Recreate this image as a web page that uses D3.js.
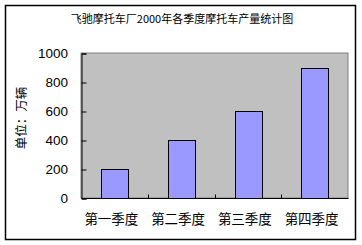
<!DOCTYPE html>
<html lang="zh">
  <head>
    <meta charset="UTF-8" />
    <title>飞驰摩托车厂2000年各季度摩托车产量统计图</title>
    <style>
      * {
        margin: 0;
        padding: 0;
      }
      body {
        background: #fff;
      }
    </style>
  </head>
  <body>
    <script src="https://cdn.jsdelivr.net/npm/d3@7/dist/d3.min.js"></script>
    <script>
      const title = '飞驰摩托车厂2000年各季度摩托车产量统计图'
      const categories = ['第一季度', '第二季度', '第三季度', '第四季度']
      const values = [200, 400, 600, 900]
      const yTicks = [0, 200, 400, 600, 800, 1000]
      const yTitle = '单位：万辆'

      const cjk = '"Noto Sans CJK SC", sans-serif'
      const W = 362
      const H = 245
      const plot = { left: 81, top: 53, right: 348, bottom: 198 }

      const svg = d3
        .select('body')
        .append('svg')
        .attr('width', W)
        .attr('height', H)

      // 外框
      svg
        .append('rect')
        .attr('x', 5.5)
        .attr('y', 5.5)
        .attr('width', 350)
        .attr('height', 234)
        .attr('fill', '#fff')
        .attr('stroke', '#000')
        .attr('stroke-width', 1.5)

      svg
        .append('text')
        .attr('x', 182)
        .attr('y', 23)
        .attr('text-anchor', 'middle')
        .attr('font-family', cjk)
        .attr('font-size', 11)
        .text(title)

      const x = d3
        .scaleBand()
        .domain(categories)
        .range([plot.left, plot.right])
        .paddingInner(0.6)
        .paddingOuter(0.3)

      const xBand = d3
        .scaleBand()
        .domain(categories)
        .range([plot.left, plot.right])

      const y = d3.scaleLinear().domain([0, 1000]).range([plot.bottom, plot.top])

      // 绘图区
      svg
        .append('rect')
        .attr('x', plot.left)
        .attr('y', plot.top)
        .attr('width', plot.right - plot.left)
        .attr('height', plot.bottom - plot.top)
        .attr('fill', '#c0c0c0')
        .attr('stroke', '#808080')
        .attr('stroke-width', 1)

      svg
        .append('g')
        .selectAll('rect')
        .data(values)
        .join('rect')
        .attr('x', (d, i) => Math.round(x(categories[i])) + 0.5)
        .attr('y', (d) => Math.round(y(d)) + 0.5)
        .attr('width', Math.round(x.bandwidth()))
        .attr('height', (d) => Math.round(y(0)) - Math.round(y(d)))
        .attr('fill', '#9999ff')
        .attr('stroke', '#000')
        .attr('stroke-width', 1)

      // y 轴
      const yAxis = svg
        .append('g')
        .attr('transform', `translate(${plot.left + 0.5},0.5)`)
        .call(d3.axisRight(y).tickValues(yTicks).tickSize(5).tickFormat(''))
      yAxis.select('.domain').attr('stroke', '#000')

      svg
        .append('g')
        .selectAll('text')
        .data(yTicks)
        .join('text')
        .attr('x', 68)
        .attr('y', (d) => y(d) + 5)
        .attr('text-anchor', 'end')
        .attr('font-family', '"Liberation Sans", Arial, sans-serif')
        .attr('font-size', 13.5)
        .text((d) => d)

      // x 轴
      const xAxis = svg
        .append('g')
        .attr('transform', `translate(0.5,${plot.bottom + 0.5})`)
        .call(
          d3
            .axisTop(xBand)
            .tickValues(categories.slice(1))
            .tickSize(4)
            .tickFormat('')
            .offset(0)
        )
      xAxis.selectAll('.tick').attr('transform', (d) => `translate(${Math.round(xBand(d))},0)`)
      xAxis.select('.domain').attr('stroke', '#000').attr('d', `M${plot.left},0H${plot.right}`)

      svg
        .append('g')
        .selectAll('text')
        .data(categories)
        .join('text')
        .attr('x', (d) => xBand(d) + xBand.bandwidth() / 2 - 3)
        .attr('y', 224)
        .attr('text-anchor', 'middle')
        .attr('font-family', cjk)
        .attr('font-size', 13.5)
        .text((d) => d)

      svg
        .append('text')
        .attr('transform', 'translate(26,118) rotate(-90)')
        .attr('text-anchor', 'middle')
        .attr('font-family', cjk)
        .attr('font-size', 12.5)
        .text(yTitle)
    </script>
  </body>
</html>
